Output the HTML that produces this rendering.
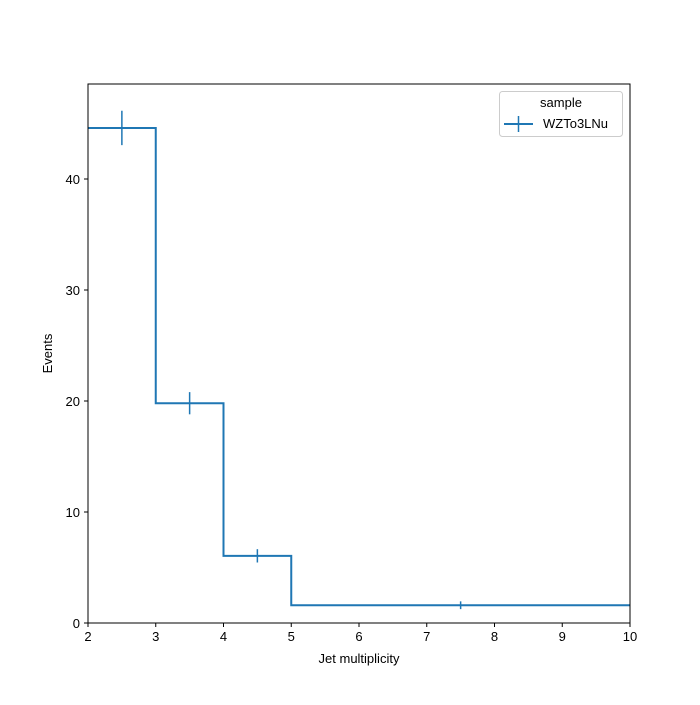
<!DOCTYPE html>
<html><head><meta charset="utf-8"><style>body{margin:0;background:#fff}svg{font-family:"Liberation Sans",sans-serif}</style></head>
<body>
<svg id="c" width="700" height="700" xmlns="http://www.w3.org/2000/svg"></svg>
<script>
const binEdges=[2,3,4,5,10];
const values=[44.6,19.8,6.05,1.6];
const errors=[1.55,1.0,0.6,0.35];
const xTicks=[2,3,4,5,6,7,8,9,10];
const yTicks=[0,10,20,30,40];
const L=88,R=630,T=84,B=623;
const X=v=>L+(v-2)/8*(R-L);
const Y=v=>B-v*11.1;
const svg=document.getElementById('c');
const NS='http://www.w3.org/2000/svg';
function mk(t,a,p){const e=document.createElementNS(NS,t);for(const k in a)e.setAttribute(k,a[k]);(p||svg).appendChild(e);return e;}
const C='#1f77b4';
let d='M'+X(binEdges[0])+','+Y(values[0]);
for(let i=0;i<values.length;i++){d+=' L'+X(binEdges[i+1])+','+Y(values[i]);if(i+1<values.length)d+=' L'+X(binEdges[i+1])+','+Y(values[i+1]);}
let p=mk('path',{d:d,fill:'none',stroke:C,'stroke-width':2});


for(let i=0;i<values.length;i++){
 const cx=(binEdges[i]+binEdges[i+1])/2;
 const g=mk('g',{});
 
 
 mk('line',{x1:X(cx),x2:X(cx),y1:Y(values[i]-errors[i]),y2:Y(values[i]+errors[i]),stroke:C,'stroke-width':1.5},g);
}
let fr=mk('rect',{x:L,y:T,width:R-L,height:B-T,fill:'none',stroke:'#000','stroke-width':1,'shape-rendering':'crispEdges'});


xTicks.forEach(v=>{
 mk('line',{x1:X(v),x2:X(v),y1:B,y2:B+4,stroke:'#000'});
 const t=mk('text',{x:X(v),y:B+18,'text-anchor':'middle','font-size':13});t.textContent=v;
 
 
});
yTicks.forEach(v=>{
 mk('line',{x1:L-4,x2:L,y1:Y(v),y2:Y(v),stroke:'#000'});
 const t=mk('text',{x:L-8,y:Y(v)+5,'text-anchor':'end','font-size':13});t.textContent=v;
 
 
});
let xt=mk('text',{x:(L+R)/2,y:663,'text-anchor':'middle','font-size':13});xt.textContent='Jet multiplicity';


let yt=mk('text',{x:52,y:(T+B)/2,'text-anchor':'middle','font-size':13,transform:'rotate(-90 52 '+(T+B)/2+')'});yt.textContent='Events';


const lg=mk('g',{});


mk('rect',{x:499.5,y:91.5,width:123,height:45,rx:3,fill:'#fff',stroke:'#ccc'},lg);
let lt=mk('text',{x:561,y:107,'text-anchor':'middle','font-size':13},lg);lt.textContent='sample';
mk('line',{x1:504,x2:533,y1:124,y2:124,stroke:C,'stroke-width':2},lg);
mk('line',{x1:518.5,x2:518.5,y1:116,y2:132,stroke:C,'stroke-width':1.5},lg);
let le=mk('text',{x:543,y:128,'font-size':13},lg);le.textContent='WZTo3LNu';


</script>
</body></html>
